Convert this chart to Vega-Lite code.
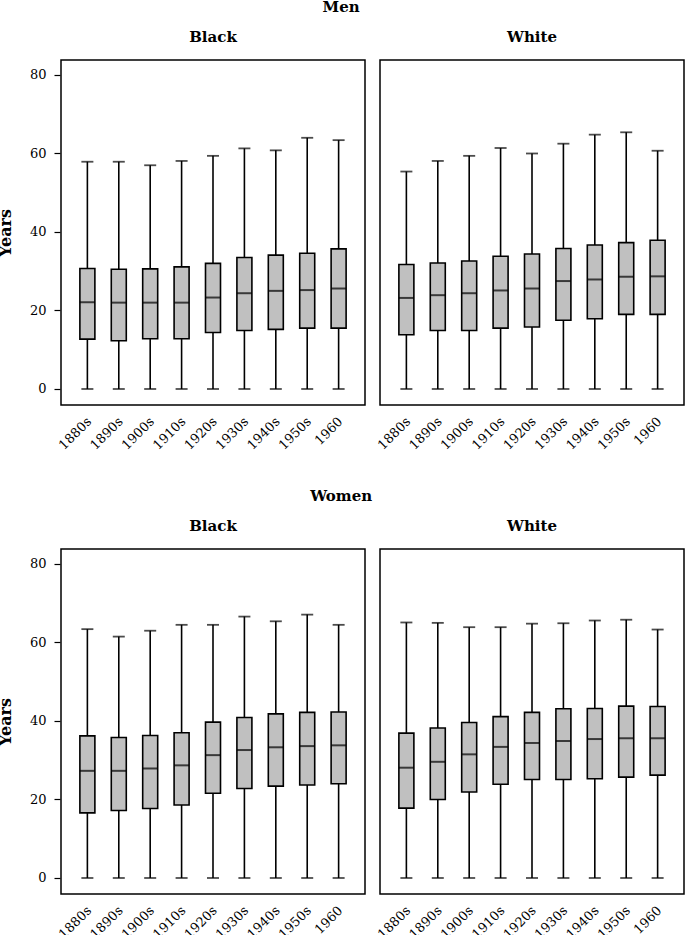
{
  "$schema": "https://vega.github.io/schema/vega-lite/v6.json",
  "background": "white",
  "padding": {"left": -3, "top": 0, "right": 0, "bottom": 0},
  "datasets": {
    "men": [
      {"race": "Black", "decade": "1880s", "lo": 0, "q1": 12.7, "med": 22.1, "q3": 30.7, "hi": 57.9},
      {"race": "Black", "decade": "1890s", "lo": 0, "q1": 12.3, "med": 22.0, "q3": 30.5, "hi": 57.9},
      {"race": "Black", "decade": "1900s", "lo": 0, "q1": 12.8, "med": 22.0, "q3": 30.6, "hi": 57.0},
      {"race": "Black", "decade": "1910s", "lo": 0, "q1": 12.8, "med": 22.0, "q3": 31.1, "hi": 58.1},
      {"race": "Black", "decade": "1920s", "lo": 0, "q1": 14.4, "med": 23.3, "q3": 32.0, "hi": 59.4},
      {"race": "Black", "decade": "1930s", "lo": 0, "q1": 14.9, "med": 24.4, "q3": 33.5, "hi": 61.3},
      {"race": "Black", "decade": "1940s", "lo": 0, "q1": 15.2, "med": 25.0, "q3": 34.1, "hi": 60.8},
      {"race": "Black", "decade": "1950s", "lo": 0, "q1": 15.5, "med": 25.2, "q3": 34.6, "hi": 64.0},
      {"race": "Black", "decade": "1960", "lo": 0, "q1": 15.5, "med": 25.6, "q3": 35.7, "hi": 63.4},
      {"race": "White", "decade": "1880s", "lo": 0, "q1": 13.8, "med": 23.2, "q3": 31.7, "hi": 55.4},
      {"race": "White", "decade": "1890s", "lo": 0, "q1": 14.9, "med": 23.9, "q3": 32.1, "hi": 58.1},
      {"race": "White", "decade": "1900s", "lo": 0, "q1": 14.9, "med": 24.4, "q3": 32.6, "hi": 59.4},
      {"race": "White", "decade": "1910s", "lo": 0, "q1": 15.5, "med": 25.1, "q3": 33.8, "hi": 61.4},
      {"race": "White", "decade": "1920s", "lo": 0, "q1": 15.8, "med": 25.6, "q3": 34.4, "hi": 60.0},
      {"race": "White", "decade": "1930s", "lo": 0, "q1": 17.5, "med": 27.5, "q3": 35.8, "hi": 62.5},
      {"race": "White", "decade": "1940s", "lo": 0, "q1": 17.9, "med": 27.9, "q3": 36.7, "hi": 64.8},
      {"race": "White", "decade": "1950s", "lo": 0, "q1": 19.0, "med": 28.6, "q3": 37.3, "hi": 65.4},
      {"race": "White", "decade": "1960", "lo": 0, "q1": 19.0, "med": 28.7, "q3": 37.9, "hi": 60.7}
    ],
    "women": [
      {"race": "Black", "decade": "1880s", "lo": 0, "q1": 16.6, "med": 27.3, "q3": 36.2, "hi": 63.4},
      {"race": "Black", "decade": "1890s", "lo": 0, "q1": 17.2, "med": 27.3, "q3": 35.8, "hi": 61.5},
      {"race": "Black", "decade": "1900s", "lo": 0, "q1": 17.7, "med": 27.9, "q3": 36.3, "hi": 63.0},
      {"race": "Black", "decade": "1910s", "lo": 0, "q1": 18.6, "med": 28.7, "q3": 37.0, "hi": 64.5},
      {"race": "Black", "decade": "1920s", "lo": 0, "q1": 21.6, "med": 31.3, "q3": 39.7, "hi": 64.5},
      {"race": "Black", "decade": "1930s", "lo": 0, "q1": 22.8, "med": 32.6, "q3": 40.9, "hi": 66.6},
      {"race": "Black", "decade": "1940s", "lo": 0, "q1": 23.4, "med": 33.3, "q3": 41.8, "hi": 65.4},
      {"race": "Black", "decade": "1950s", "lo": 0, "q1": 23.7, "med": 33.6, "q3": 42.2, "hi": 67.1},
      {"race": "Black", "decade": "1960", "lo": 0, "q1": 24.0, "med": 33.8, "q3": 42.3, "hi": 64.5},
      {"race": "White", "decade": "1880s", "lo": 0, "q1": 17.8, "med": 28.1, "q3": 36.9, "hi": 65.1},
      {"race": "White", "decade": "1890s", "lo": 0, "q1": 20.0, "med": 29.6, "q3": 38.2, "hi": 65.0},
      {"race": "White", "decade": "1900s", "lo": 0, "q1": 21.9, "med": 31.5, "q3": 39.6, "hi": 63.9},
      {"race": "White", "decade": "1910s", "lo": 0, "q1": 23.9, "med": 33.4, "q3": 41.1, "hi": 63.9},
      {"race": "White", "decade": "1920s", "lo": 0, "q1": 25.1, "med": 34.4, "q3": 42.2, "hi": 64.8},
      {"race": "White", "decade": "1930s", "lo": 0, "q1": 25.1, "med": 34.9, "q3": 43.1, "hi": 64.9},
      {"race": "White", "decade": "1940s", "lo": 0, "q1": 25.3, "med": 35.4, "q3": 43.2, "hi": 65.6},
      {"race": "White", "decade": "1950s", "lo": 0, "q1": 25.7, "med": 35.6, "q3": 43.8, "hi": 65.8},
      {"race": "White", "decade": "1960", "lo": 0, "q1": 26.2, "med": 35.6, "q3": 43.7, "hi": 63.3}
    ]
  },
  "vconcat": [
    {
      "data": {"name": "men"},
      "title": {"text": "Men"},
      "facet": {"column": {"field": "race", "type": "nominal", "header": {"title": null}}},
      "spacing": 13,
      "spec": {
        "width": 304,
        "height": 345,
        "encoding": {
          "x": {"field": "decade", "type": "ordinal", "sort": null, "title": null,
                "scale": {"paddingInner": 0, "paddingOuter": 0.34}},
          "y": {"type": "quantitative"}
        },
        "layer": [
          {"mark": {"type": "rule", "color": "black", "strokeWidth": 1.6},
           "encoding": {"y": {"field": "lo", "type": "quantitative", "title": "Years", "scale": {"domain": [-4.08, 83.82], "nice": false, "zero": false}, "axis": {"values": [0, 20, 40, 60, 80]}}, "y2": {"field": "hi"}}},
          {"mark": {"type": "tick", "color": "black", "size": 12, "thickness": 1.8},
           "encoding": {"y": {"field": "hi", "type": "quantitative"}}},
          {"mark": {"type": "tick", "color": "black", "size": 12, "thickness": 1.8},
           "encoding": {"y": {"field": "lo", "type": "quantitative"}}},
          {"mark": {"type": "bar", "width": 15, "fill": "#c0c0c0", "stroke": "black", "strokeWidth": 1.6},
           "encoding": {"y": {"field": "q1", "type": "quantitative"}, "y2": {"field": "q3"}}},
          {"mark": {"type": "tick", "color": "black", "size": 15, "thickness": 2},
           "encoding": {"y": {"field": "med", "type": "quantitative"}}}
        ]
      }
    },
    {
      "data": {"name": "women"},
      "title": {"text": "Women"},
      "facet": {"column": {"field": "race", "type": "nominal", "header": {"title": null}}},
      "spacing": 13,
      "spec": {
        "width": 304,
        "height": 345,
        "encoding": {
          "x": {"field": "decade", "type": "ordinal", "sort": null, "title": null,
                "scale": {"paddingInner": 0, "paddingOuter": 0.34}},
          "y": {"type": "quantitative"}
        },
        "layer": [
          {"mark": {"type": "rule", "color": "black", "strokeWidth": 1.6},
           "encoding": {"y": {"field": "lo", "type": "quantitative", "title": "Years", "scale": {"domain": [-4.08, 83.82], "nice": false, "zero": false}, "axis": {"values": [0, 20, 40, 60, 80]}}, "y2": {"field": "hi"}}},
          {"mark": {"type": "tick", "color": "black", "size": 12, "thickness": 1.8},
           "encoding": {"y": {"field": "hi", "type": "quantitative"}}},
          {"mark": {"type": "tick", "color": "black", "size": 12, "thickness": 1.8},
           "encoding": {"y": {"field": "lo", "type": "quantitative"}}},
          {"mark": {"type": "bar", "width": 15, "fill": "#c0c0c0", "stroke": "black", "strokeWidth": 1.6},
           "encoding": {"y": {"field": "q1", "type": "quantitative"}, "y2": {"field": "q3"}}},
          {"mark": {"type": "tick", "color": "black", "size": 15, "thickness": 2},
           "encoding": {"y": {"field": "med", "type": "quantitative"}}}
        ]
      }
    }
  ],
  "spacing": 36,
  "config": {
    "font": "DejaVu Serif",
    "view": {"stroke": "black", "strokeWidth": 1.5},
    "axis": {"grid": false, "domain": false, "labelFont": "DejaVu Serif", "labelFontSize": 13, "labelColor": "black",
             "titleFont": "DejaVu Serif", "titleFontSize": 16, "titleFontWeight": "bold", "titleColor": "black"},
    "axisX": {"ticks": false, "labelAngle": -45, "labelAlign": "right", "labelBaseline": "middle", "labelPadding": 13, "labelOffset": 2},
    "axisY": {"ticks": true, "tickSize": 6, "tickColor": "black", "tickWidth": 1.2, "labelPadding": 8, "titlePadding": 16},
    "header": {"labelFont": "DejaVu Serif", "labelFontSize": 15, "labelFontWeight": "bold", "labelColor": "black", "labelPadding": 14},
    "title": {"font": "DejaVu Serif", "fontSize": 15, "fontWeight": "bold", "color": "black", "anchor": "middle", "offset": 15}
  }
}
